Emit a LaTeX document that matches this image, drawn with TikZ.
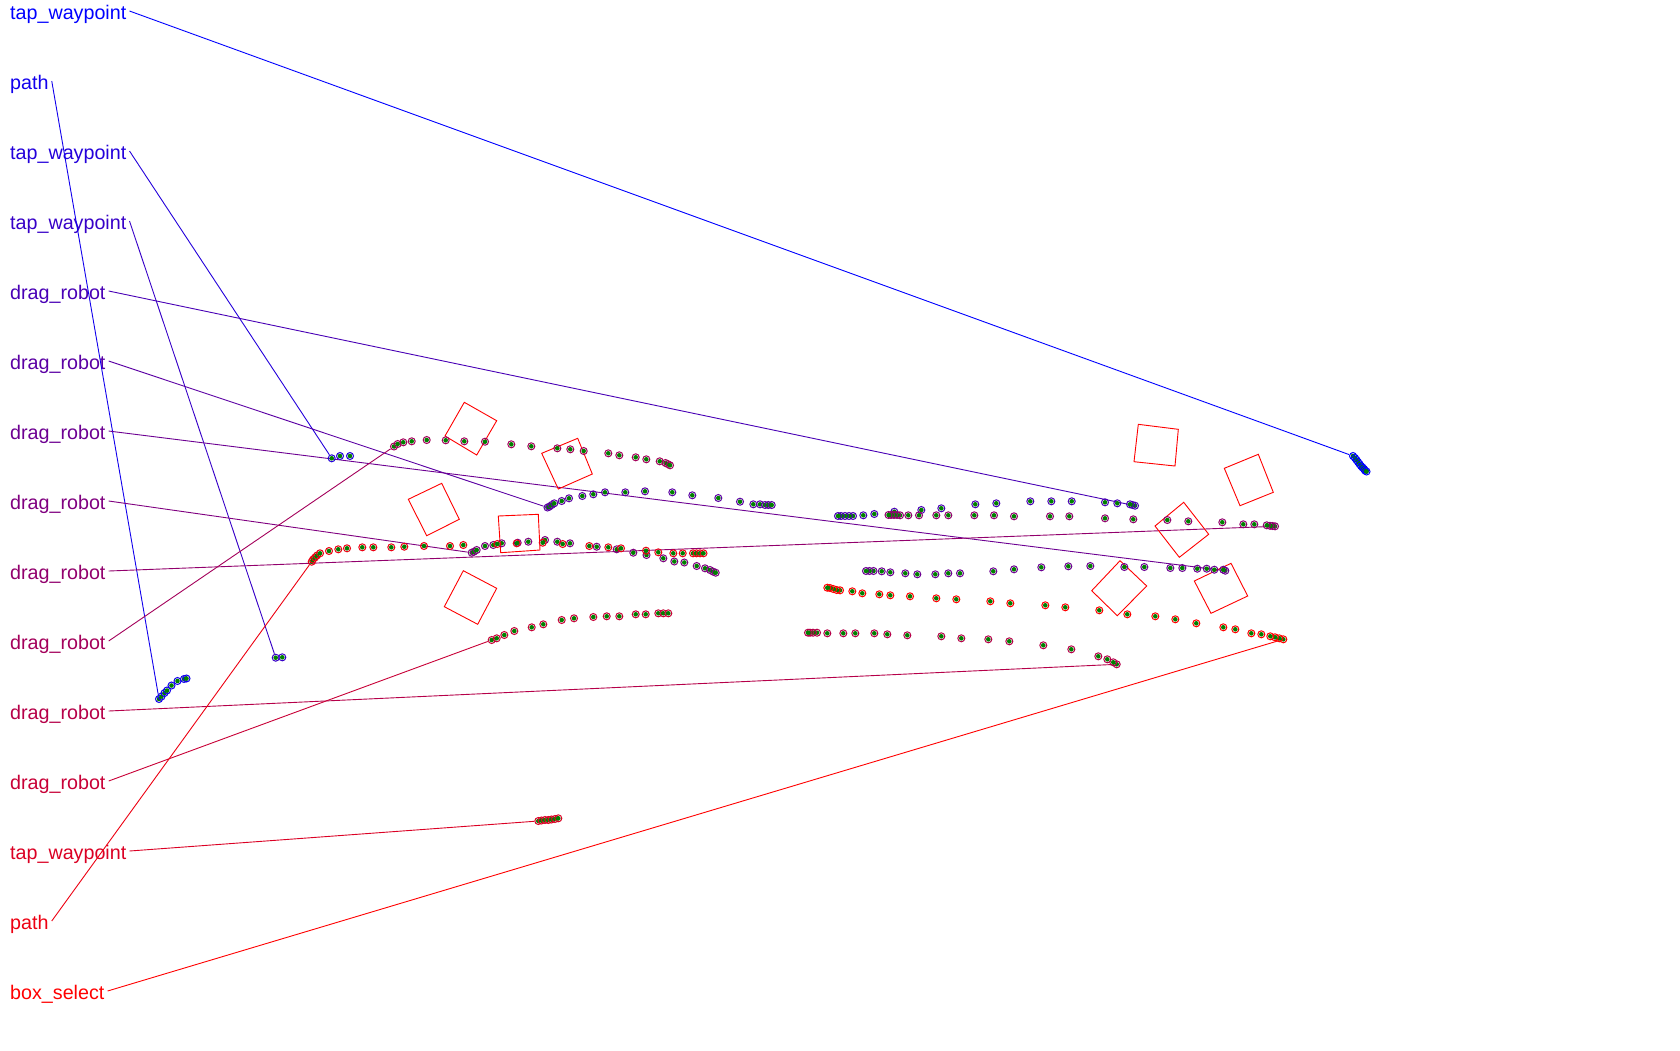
\documentclass[tikz,border=0pt]{standalone}
\usepackage{fontspec}
\setmainfont{Liberation Sans}
\usetikzlibrary{calc}
\definecolor{dotg}{RGB}{0,128,0}
\colorlet{c1}{red!0!blue}
\colorlet{c2}{red!7.14!blue}
\colorlet{c3}{red!14.29!blue}
\colorlet{c4}{red!21.43!blue}
\colorlet{c5}{red!28.57!blue}
\colorlet{c6}{red!35.71!blue}
\colorlet{c7}{red!42.86!blue}
\colorlet{c8}{red!50!blue}
\colorlet{c9}{red!57.14!blue}
\colorlet{c10}{red!64.29!blue}
\colorlet{c11}{red!71.43!blue}
\colorlet{c12}{red!78.57!blue}
\colorlet{c13}{red!85.71!blue}
\colorlet{c14}{red!92.86!blue}
\colorlet{c15}{red!100!blue}
\tikzset{
  lbl/.style={anchor=base west, inner sep=0pt, font=\fontsize{19.7}{24}\selectfont},
  anchorpt/.style={circle, inner sep=0pt, minimum size=8pt},
  conn/.style={line width=0.9pt},
  obox/.style={draw=red, line width=0.9pt},
}
\newcommand{\trajdraw}[2]{%
  \foreach \qx/\qy in {#2}{%
    \draw[#1, line width=1pt] (\qx,\qy) circle (3.5pt);
    \fill[dotg] (\qx,\qy) circle (2.3pt);
  }%
}
\begin{document}
\begin{tikzpicture}[x=1pt,y=-1pt]
\useasboundingbox (0,0) rectangle (1680,1050);
\fill[white] (0,0) rectangle (1680,1050);

% labels
\node[lbl, text=c1]  (l1)  at (10,19)  {tap\_waypoint};
\node[lbl, text=c2]  (l2)  at (10,89)  {path};
\node[lbl, text=c3]  (l3)  at (10,159) {tap\_waypoint};
\node[lbl, text=c4]  (l4)  at (10,229) {tap\_waypoint};
\node[lbl, text=c5]  (l5)  at (10,299) {drag\_robot};
\node[lbl, text=c6]  (l6)  at (10,369) {drag\_robot};
\node[lbl, text=c7]  (l7)  at (10,439) {drag\_robot};
\node[lbl, text=c8]  (l8)  at (10,509) {drag\_robot};
\node[lbl, text=c9]  (l9)  at (10,579) {drag\_robot};
\node[lbl, text=c10] (l10) at (10,649) {drag\_robot};
\node[lbl, text=c11] (l11) at (10,719) {drag\_robot};
\node[lbl, text=c12] (l12) at (10,789) {drag\_robot};
\node[lbl, text=c13] (l13) at (10,859) {tap\_waypoint};
\node[lbl, text=c14] (l14) at (10,929) {path};
\node[lbl, text=c15] (l15) at (10,999) {box\_select};

\foreach \i in {1,...,15}{\coordinate (s\i) at ($(l\i.base east)+(3,-8)$);}

% trajectory start points
\node[anchorpt] (p1)  at (1353,456) {};
\node[anchorpt] (p2)  at (159,699) {};
\node[anchorpt] (p3)  at (331.7,458.3) {};
\node[anchorpt] (p4)  at (275.7,657.7) {};
\node[anchorpt] (p5)  at (1135,505.7) {};
\node[anchorpt] (p6)  at (547.5,507.5) {};
\node[anchorpt] (p7)  at (1225.3,570.7) {};
\node[anchorpt] (p8)  at (471.7,552.7) {};
\node[anchorpt] (p9)  at (1275,526.3) {};
\node[anchorpt] (p10) at (394,446.5) {};
\node[anchorpt] (p11) at (1116.7,664.3) {};
\node[anchorpt] (p12) at (491.7,640) {};
\node[anchorpt] (p13) at (538.3,821) {};
\node[anchorpt] (p14) at (311.7,561.7) {};
\node[anchorpt] (p15) at (1283.3,639.3) {};

% connectors
\foreach \i in {1,...,15}{\draw[conn, c\i] (s\i) -- (p\i);}

% boxes
\draw[obox] (464.3,402.3) -- (496.7,420.7) -- (476.7,455) -- (445,436) -- cycle;
\draw[obox] (541.7,453.3) -- (577.7,438.3) -- (592.3,474) -- (558.3,489) -- cycle;
\draw[obox] (408.3,499.3) -- (441.7,483.3) -- (459.3,519.3) -- (426.7,535.7) -- cycle;
\draw[obox] (498.3,516) -- (538.3,514.3) -- (540,550) -- (500.7,552.7) -- cycle;
\draw[obox] (463.3,570.7) -- (496.7,588.3) -- (477.7,624.3) -- (444.3,606.7) -- cycle;
\draw[obox] (1138.3,424.3) -- (1178.3,429.3) -- (1175,466) -- (1134,461.7) -- cycle;
\draw[obox] (1224.3,468.3) -- (1258.3,454.3) -- (1273.3,492.3) -- (1240,505.7) -- cycle;
\draw[obox] (1155,526) -- (1183.7,502.3) -- (1208.7,534.3) -- (1179.3,557.3) -- cycle;
\draw[obox] (1091.7,590.7) -- (1120,560.7) -- (1146.7,586) -- (1117.3,615.7) -- cycle;
\draw[obox] (1194.3,581) -- (1231,563.3) -- (1247.7,596) -- (1211,613.3) -- cycle;

% trajectories
\trajdraw{c1}{1353/456,1355/458,1356.5/460,1358/462,1359.5/464,1361/466,1362.5/467.5,1364/469,1365/470.5,1366.5/471.5}
\trajdraw{c2}{159/699,161.5/696.5,164.5/693,167/690.5,171.5/685.5,177.5/681,184/679,186.5/678.5}
\trajdraw{c3}{331.7/458.3,340/456,350/456}
\trajdraw{c4}{275.7/657.7,282.3/657.3}
\trajdraw{c5}{1135/505.7,1132.5/505,1130/504.3,1117.3/503.3,1105/502.3,1071.7/501.3,1051.3/501.3,1030.3/501.3,996.3/503.3,975.3/504.3,941.3/508.3,921.3/510,894.3/511.7,874.3/514,863.3/515.3,853/516,849/516,845/516,841/516,838/516}
\trajdraw{c6}{547.5/507.5,549.3/506.7,551.7/505,554.3/503.3,561.7/501,569/498.3,582.3/496,593.3/494.3,605/492.3,625.3/492.3,645/491.3,672.3/492.3,692.3/495.3,718.3/498,740/501.7,753.3/504.3,760/504.3,765/505,768.3/505,771.7/505}
\trajdraw{c7}{1225.3/570.7,1223.3/569.7,1214.3/569.7,1206.7/568.7,1197.3/568.7,1182.3/568,1170.3/568,1144.3/567,1124.3/567,1090.3/566,1068.3/566.3,1041.3/567.3,1014/569.3,993.3/571.3,960/573.3,948.3/573.3,935.3/574.3,917.3/574.3,905.3/573.3,890.3/572.3,881.7/571.3,873.5/571,869.5/571,866/571}
\trajdraw{c8}{471.7/552.7,474/551.7,476.7/550,485/546,493.3/545,501.7/543.3,517.7/542.7,528.3/541.7,545/540,557.3/541.7,570/543.3,596.7/546.7,616.7/549.3,633.3/552.7,646.5/555,663.3/558.3,674.3/561.5,684.3/562.5,696.7/566,705/568.3,710/570,713.3/571.7,715.7/572.7}
\trajdraw{c9}{1275/526.3,1272.5/526,1270/525.8,1266.7/525.3,1254.3/524.3,1243.3/524.3,1222.3/522.3,1188.3/521.3,1167.3/520,1133.3/519.3,1105/518.3,1069.3/516.3,1050/516.3,1014/516.3,994/515.3,974.3/515.3,948.3/515.3,936.3/515.3,919/515.3,908.3/515.3,900/515.3,897/515,894/515,891/515,888.5/515}
\trajdraw{c10}{394/446.5,397.7/444,403.3/442.3,411.7/441.3,426.7/440,445.7/440.3,464.3/441.3,485/441.7,511.3/444.3,531.3/446.3,557.3/448.3,570.3/449.3,583.7/451,608.3/453.3,619.3/455.3,635.7/457.3,646.3/459.3,659.7/461.3,665.5/463,667.7/464,670/465.3}
\trajdraw{c11}{1116.7/664.3,1113.3/662.3,1107.3/659.3,1098.3/656.3,1071.3/649.3,1043.3/645.3,1009.3/641.3,988.3/639.3,961.3/638.3,941.3/636.3,907.3/635.3,887.3/634.3,874.3/633.3,855.3/633.3,843.3/633.3,827.3/633.3,817/632.7,813/632.7,810/632.7,808/632.7}
\trajdraw{c12}{491.7/640,496.7/638.3,504.3/635,514.3/631,531.7/627.3,543.3/624.3,561.7/620,574/618.3,593.3/617,606.7/616.3,619.3/616.3,635.7/614.3,645.7/614.3,658.3/613.3,663.3/613.3,668.3/613.3}
\trajdraw{c13}{538.3/821,541.5/820.5,545/820,548.3/820,551.5/819.5,555/819,558.3/818.3}
\trajdraw{c14}{311.7/561.7,313/559.5,315/557.5,317/555.5,320/553.3,329/551,338.3/549.3,347/548.3,362.3/547.3,373.3/547.3,391.3/547.3,404.3/546.7,424/546,450/546,463.3/545,497.3/544,516.7/543.3,542.7/542.7,562.7/544,589.3/546,608.3/547.3,621/548.3,646/550.7,658.3/552.3,673.3/553.3,682.7/553.3,693/553.3,696.5/553.3,700/553.3,703.5/553.3}
\trajdraw{c15}{1283.3/639.3,1279.3/638.3,1275/637.3,1270.3/636.3,1261.3/634.3,1251.3/633.3,1235.3/629.3,1223.3/627.3,1196.3/623.3,1175.3/619.3,1155.3/616.3,1127.3/614.3,1099.3/610.3,1065.3/607.3,1045.3/605.3,1010.3/603.3,990.3/601.3,956.3/599.3,936.3/598.3,910/596.3,890.3/595.3,879.3/594.3,862.3/593.3,852.3/591.3,840/590.3,836.7/590,833.3/589,830/588,827.3/587.7}
\end{tikzpicture}
\end{document}
